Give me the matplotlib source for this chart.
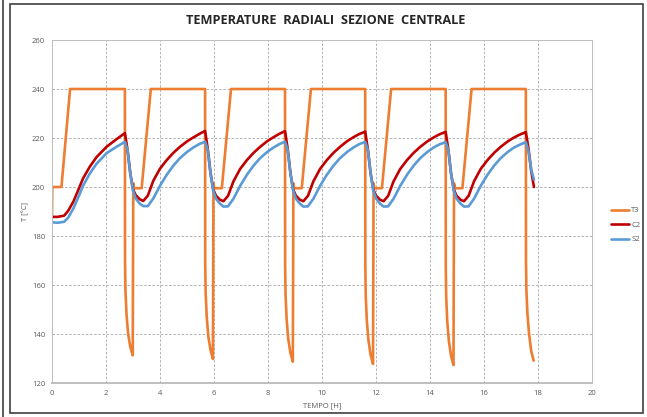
import matplotlib
matplotlib.use("Agg")
import matplotlib.pyplot as plt
from matplotlib.patches import Rectangle
from matplotlib.lines import Line2D

# ---- data -------------------------------------------------------------
# T3: temperature at the outer radius [°C]
time_t3 = [
    0.00, 0.01, 0.35, 0.67,
    2.70, 2.705, 2.72, 2.76, 2.82, 2.90, 2.99, 3.01, 3.04, 3.32, 3.66,
    5.67, 5.675, 5.69, 5.73, 5.79, 5.87, 5.96, 5.98, 6.01, 6.29, 6.63,
    8.63, 8.635, 8.65, 8.69, 8.75, 8.83, 8.92, 8.94, 8.97, 9.25, 9.59,
    11.60, 11.605, 11.62, 11.66, 11.72, 11.80, 11.89, 11.91, 11.94, 12.22, 12.56,
    14.58, 14.585, 14.60, 14.64, 14.70, 14.78, 14.87, 14.89, 14.92, 15.20, 15.54,
    17.55, 17.555, 17.57, 17.61, 17.67, 17.75, 17.84,
]
temp_t3 = [
    187.5, 200.0, 200.0, 240.0,
    240.0, 170.0, 158.0, 148.0, 140.0, 134.8, 131.3, 201.5, 199.5, 199.5, 240.0,
    240.0, 169.0, 157.0, 147.0, 139.0, 133.5, 129.8, 201.5, 199.5, 199.5, 240.0,
    240.0, 168.0, 156.0, 146.0, 138.0, 132.3, 128.7, 201.5, 199.5, 199.5, 240.0,
    240.0, 168.0, 155.5, 145.5, 137.5, 131.5, 127.8, 201.5, 199.5, 199.5, 240.0,
    240.0, 167.0, 155.0, 145.0, 137.0, 131.0, 127.3, 201.5, 199.5, 199.5, 240.0,
    240.0, 170.0, 158.0, 148.0, 140.0, 133.0, 129.1,
]

# C2 / S2: temperatures at the inner points, sampled on a common time base
time_h = [
    0.00, 0.20, 0.45, 0.60, 0.79, 1.00, 1.15, 1.40, 1.65, 2.02, 2.40,
    2.70, 2.80, 2.90, 3.00, 3.10, 3.25, 3.38, 3.55, 3.75, 4.00, 4.25, 4.50, 4.74, 5.00, 5.23, 5.45,
    5.67, 5.77, 5.87, 5.97, 6.07, 6.22, 6.35, 6.52, 6.72, 6.97, 7.22, 7.47, 7.71, 7.97, 8.20, 8.42,
    8.63, 8.73, 8.83, 8.93, 9.03, 9.18, 9.31, 9.48, 9.68, 9.93, 10.18, 10.43, 10.67, 10.93, 11.16, 11.38,
    11.60, 11.70, 11.80, 11.90, 12.00, 12.15, 12.28, 12.45, 12.65, 12.90, 13.15, 13.40, 13.64, 13.90, 14.13, 14.35,
    14.58, 14.68, 14.78, 14.88, 14.98, 15.13, 15.26, 15.43, 15.63, 15.88, 16.13, 16.38, 16.62, 16.88, 17.11, 17.33,
    17.55, 17.65, 17.75, 17.85,
]
temp_c2 = [
    187.8, 187.8, 188.3, 190.3, 194.0, 199.5, 203.5, 208.3, 212.2, 216.4, 219.6,
    222.0, 215.0, 205.5, 199.0, 196.7, 195.0, 194.3, 196.5, 202.5, 207.5, 211.0, 214.0, 216.4, 218.6, 220.2, 221.6,
    222.9, 215.5, 205.8, 199.0, 196.5, 194.8, 194.2, 196.4, 202.3, 207.4, 211.0, 214.0, 216.4, 218.7, 220.3, 221.7,
    222.8, 215.5, 205.8, 199.0, 196.5, 194.8, 194.2, 196.4, 202.3, 207.4, 211.0, 214.0, 216.4, 218.7, 220.3, 221.6,
    222.6, 215.3, 205.6, 199.0, 196.5, 194.8, 194.2, 196.4, 202.3, 207.4, 211.0, 214.0, 216.4, 218.6, 220.2, 221.5,
    222.5, 215.2, 205.5, 199.0, 196.5, 194.8, 194.2, 196.4, 202.3, 207.4, 211.0, 214.0, 216.4, 218.6, 220.2, 221.4,
    222.4, 215.5, 206.5, 200.0,
]
temp_s2 = [
    185.6, 185.4, 185.8, 187.5, 191.2, 196.5, 200.5, 205.5, 209.5, 213.8, 216.5,
    218.4, 215.0, 205.5, 198.5, 195.3, 193.2, 192.2, 192.2, 195.3, 200.5, 205.0, 208.8, 211.8, 214.3, 216.1, 217.5,
    218.5, 215.0, 205.5, 198.5, 195.3, 193.2, 192.0, 192.1, 195.2, 200.5, 205.0, 208.8, 211.8, 214.3, 216.1, 217.5,
    218.5, 215.0, 205.5, 198.5, 195.3, 193.2, 192.0, 192.1, 195.2, 200.5, 205.0, 208.8, 211.8, 214.3, 216.1, 217.5,
    218.4, 215.0, 205.5, 198.5, 195.3, 193.2, 192.0, 192.1, 195.2, 200.5, 205.0, 208.8, 211.8, 214.3, 216.1, 217.4,
    218.3, 215.0, 205.5, 198.5, 195.3, 193.2, 192.0, 192.1, 195.2, 200.5, 205.0, 208.8, 211.8, 214.3, 216.1, 217.3,
    218.3, 214.5, 207.0, 203.0,
]

series_names = ["T3", "C2", "S2"]
series_colors = ["#ED7D31", "#C00000", "#5B9BD5"]

x_ticks = [0, 2, 4, 6, 8, 10, 12, 14, 16, 18, 20]
y_ticks = [120, 140, 160, 180, 200, 220, 240, 260]

title_text = "TEMPERATURE  RADIALI  SEZIONE  CENTRALE"
x_label = "TEMPO [H]"
y_label = "T [°C]"

# ---- figure -----------------------------------------------------------
plt.rcParams["font.family"] = ["Open Sans", "DejaVu Sans"]

W, H = 647, 417
fig = plt.figure(figsize=(W / 100, H / 100), dpi=100)
fig.patch.set_facecolor("white")

# outer frame of the chart object
fig.patches.append(Rectangle((10 / W, 4 / H), (643 - 10) / W, (413 - 4) / H,
                             transform=fig.transFigure, fill=False,
                             edgecolor="#404040", linewidth=1.2))
fig.lines.append(Line2D([3 / W, 3 / W], [0, 1], transform=fig.transFigure,
                        color="#404040", linewidth=1.2))

ax = fig.add_axes([52 / W, 1 - 383 / H, (592 - 52) / W, (383 - 40) / H])

grid_style = dict(color="#A6A6A6", linestyle=(0, (3, 2)), linewidth=0.6)
ax.set_axisbelow(True)
ax.grid(True, **grid_style)

data = [(time_t3, temp_t3), (time_h, temp_c2), (time_h, temp_s2)]
for (tx, ty), name, col in zip(data, series_names, series_colors):
    ax.plot(tx, ty, color=col, linewidth=1.9, label=name,
            solid_joinstyle="round", solid_capstyle="round")

ax.set_xlim(x_ticks[0], x_ticks[-1])
ax.set_ylim(y_ticks[0], y_ticks[-1])
ax.set_xticks(x_ticks)
ax.set_yticks(y_ticks)
ax.tick_params(axis="both", length=0, labelsize=5.5, labelcolor="#595959", pad=5)

for side in ("top", "right", "left"):
    ax.spines[side].set_color("#BFBFBF")
    ax.spines[side].set_linewidth(0.7)
ax.spines["bottom"].set_color("#BFBFBF")
ax.spines["bottom"].set_linewidth(1.4)

ax.set_xlabel(x_label, fontsize=5.5, color="#595959", labelpad=4)
ax.set_ylabel(y_label, fontsize=5.5, color="#595959", labelpad=2)

fig.text(326 / W, 1 - 20 / H, title_text, ha="center", va="center",
         fontsize=9.2, fontweight="bold", color="#262626")

leg = ax.legend(loc="center left", bbox_to_anchor=(1.03, 0.46), frameon=False,
                fontsize=5.5, handlelength=2.3, handletextpad=0.3,
                labelspacing=0.95, borderaxespad=0)
for txt in leg.get_texts():
    txt.set_color("#595959")

fig.savefig("out.png", dpi=100, facecolor="white")
